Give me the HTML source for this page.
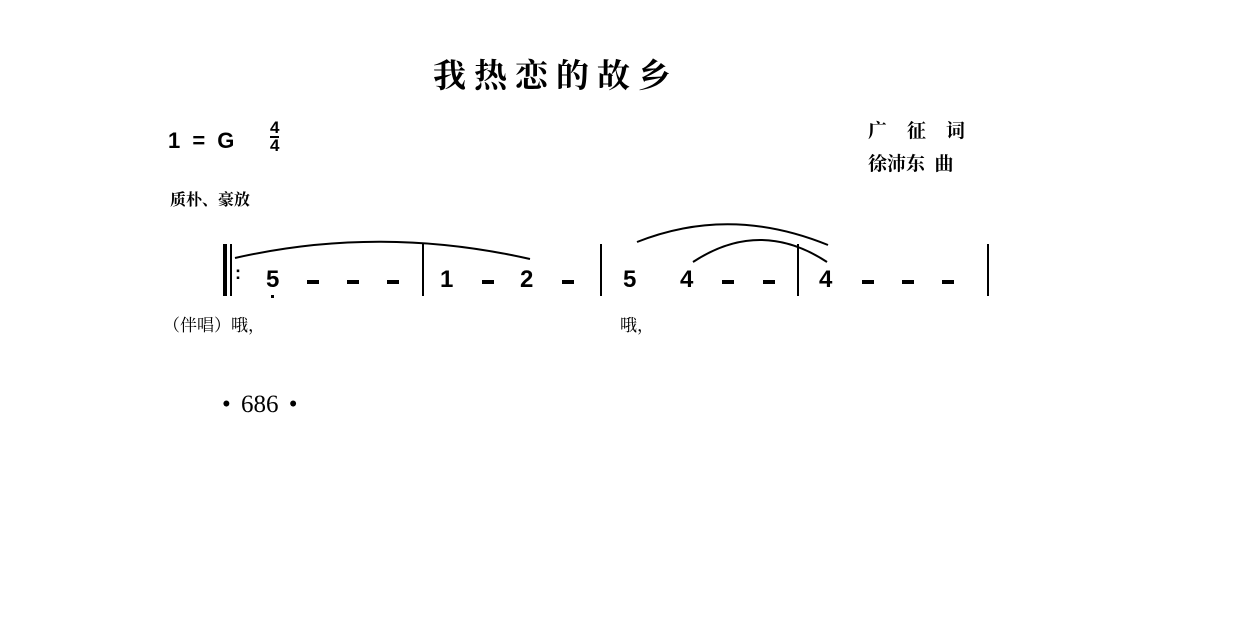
<!DOCTYPE html>
<html><head><meta charset="utf-8"><style>
body{margin:0;background:#fff;}
.w{position:relative;width:1241px;height:640px;overflow:hidden;font-family:"Liberation Serif","Noto Serif CJK SC",serif;color:#000}
.t{position:absolute;white-space:nowrap}
.n{font-family:"Liberation Sans",sans-serif;font-weight:bold;font-size:24px}
.d{position:absolute;height:4px;width:12px;background:#000}
.b{position:absolute;width:1.5px;background:#000}
</style></head><body><div class="w">
<div class="t" style="left:433px;top:50px;font-size:33px;letter-spacing:8px;font-weight:bold;font-family:'Noto Serif CJK SC',serif">我热恋的故乡</div>
<div class="t n" style="left:168px;top:128px;font-size:22px;word-spacing:6px">1 = G</div>
<div class="t n" style="left:270px;top:119px;font-size:17px;line-height:17px;text-align:center">4<br><span style="display:block;border-top:2px solid #000;line-height:16px">4</span></div>
<div class="t" style="left:868px;top:116px;font-size:19px;letter-spacing:20px;font-weight:bold;font-family:'Noto Serif CJK SC',serif">广征词</div>
<div class="t" style="left:868px;top:149px;font-size:19px;font-weight:bold;font-family:'Noto Serif CJK SC',serif">徐沛东&nbsp;&nbsp;曲</div>
<div class="t" style="left:170px;top:187px;font-size:16px;font-weight:bold;font-family:'Noto Serif CJK SC',serif">质朴、豪放</div>
<div class="b" style="left:223px;top:244px;height:52px;width:4px"></div>
<div class="b" style="left:230px;top:244px;height:52px"></div>
<div class="t n" style="left:235px;top:263px;font-size:18px">:</div>
<div class="t n" style="left:266px;top:266px">5</div>
<div style="position:absolute;left:271px;top:295px;width:3px;height:3px;background:#000"></div>
<div class="d" style="left:307px;top:280px"></div><div class="d" style="left:347px;top:280px"></div><div class="d" style="left:387px;top:280px"></div>
<div class="b" style="left:422px;top:244px;height:52px"></div>
<div class="t n" style="left:440px;top:266px">1</div>
<div class="d" style="left:482px;top:280px"></div>
<div class="t n" style="left:520px;top:266px">2</div>
<div class="d" style="left:562px;top:280px"></div>
<div class="b" style="left:600px;top:244px;height:52px"></div>
<div class="t n" style="left:623px;top:266px">5</div>
<div class="t n" style="left:680px;top:266px">4</div>
<div class="d" style="left:722px;top:280px"></div><div class="d" style="left:763px;top:280px"></div>
<div class="b" style="left:797px;top:244px;height:52px"></div>
<div class="t n" style="left:819px;top:266px">4</div>
<div class="d" style="left:862px;top:280px"></div><div class="d" style="left:902px;top:280px"></div><div class="d" style="left:942px;top:280px"></div>
<div class="b" style="left:987px;top:244px;height:52px"></div>
<svg width="1241" height="640" style="position:absolute;left:0;top:0" fill="none" stroke="#000" stroke-width="2">
<path d="M235 258 Q380 225 530 259"/>
<path d="M637 242 Q730 205 828 245"/>
<path d="M693 262 Q760 218 827 262"/>
</svg>
<div class="t" style="left:163px;top:311px;font-size:17px;font-family:'Noto Serif CJK SC',serif">（伴唱）哦，</div>
<div class="t" style="left:620px;top:311px;font-size:17px;font-family:'Noto Serif CJK SC',serif">哦，</div>
<div class="t" style="left:222px;top:391px;font-size:25px;word-spacing:4px">• 686 •</div>
</div></body></html>
